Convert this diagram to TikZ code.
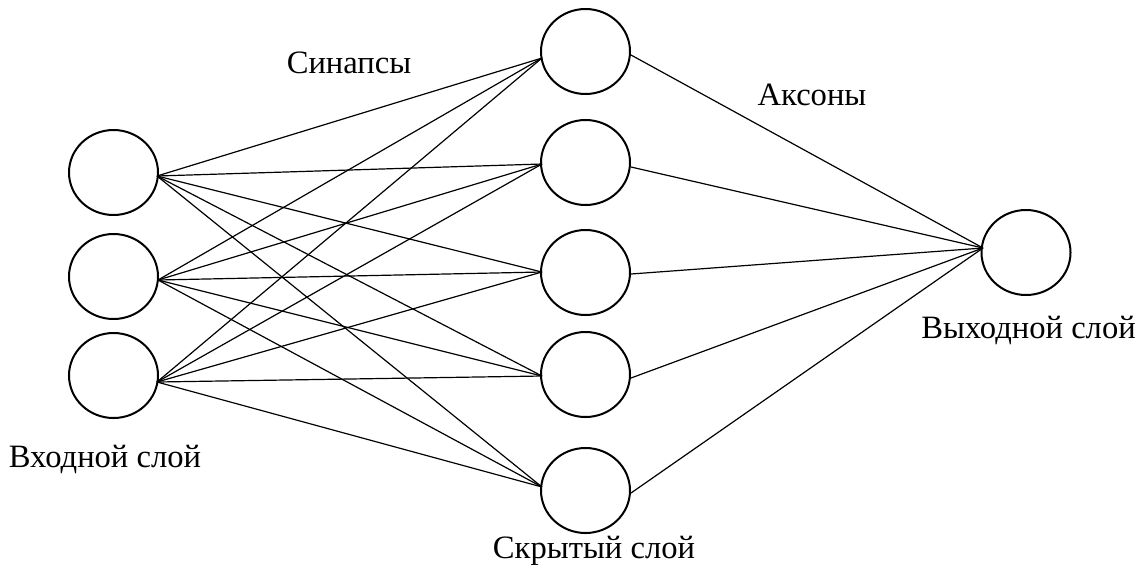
\documentclass[tikz,border=0pt]{standalone}
\usepackage{fontspec}
\setmainfont{Liberation Serif}
\usetikzlibrary{shapes.geometric}
\begin{document}
\begin{tikzpicture}[x=0.5pt,y=-0.5pt,
  neuron/.style={draw,ellipse,line width=1pt,minimum width=44.5pt,minimum height=42.5pt,inner sep=0pt},
  link/.style={line width=0.6pt},
  lbl/.style={anchor=base,inner sep=0pt,font=\fontsize{16.3}{19}\selectfont}]
\useasboundingbox (0,0) rectangle (1139,574);
% input layer
\node[neuron] (in1) at (113.5,172.5) {};
\node[neuron] (in2) at (113.5,276.5) {};
\node[neuron] (in3) at (113.5,375.5) {};
% hidden layer
\node[neuron] (h1) at (585.5,51.5) {};
\node[neuron] (h2) at (585.5,162.5) {};
\node[neuron] (h3) at (585.5,272.5) {};
\node[neuron] (h4) at (585.5,374.5) {};
\node[neuron] (h5) at (585.5,490.5) {};
% output layer
\node[neuron] (out) at (1026,252.5) {};
% connection points
\coordinate (i1o) at (157,176);
\coordinate (i2o) at (158,280);
\coordinate (i3o) at (157,382);
\coordinate (h1i) at (542,58);
\coordinate (h2i) at (542,164);
\coordinate (h3i) at (542,272);
\coordinate (h4i) at (542,376);
\coordinate (h5i) at (542,487);
\coordinate (h1o) at (631,55);
\coordinate (h2o) at (631,167);
\coordinate (h3o) at (631,274);
\coordinate (h4o) at (631,378);
\coordinate (h5o) at (631,493);
\coordinate (oi) at (983,248);
\foreach \i in {1,2,3}{
  \foreach \h in {1,...,5}{
    \draw[link] (i\i o) -- (h\h i);
  }
}
\foreach \h in {1,...,5}{
  \draw[link] (h\h o) -- (oi);
}
% labels
\node[lbl] (syn) at (349,73) {Синапсы};
\node[lbl] (ax) at (812,105) {Аксоны};
\node[lbl] (inl) at (105,467) {Входной слой};
\node[lbl] (hidl) at (594,558) {Скрытый слой};
\node[lbl] (outl) at (1028.5,338) {Выходной слой};
\end{tikzpicture}
\end{document}
